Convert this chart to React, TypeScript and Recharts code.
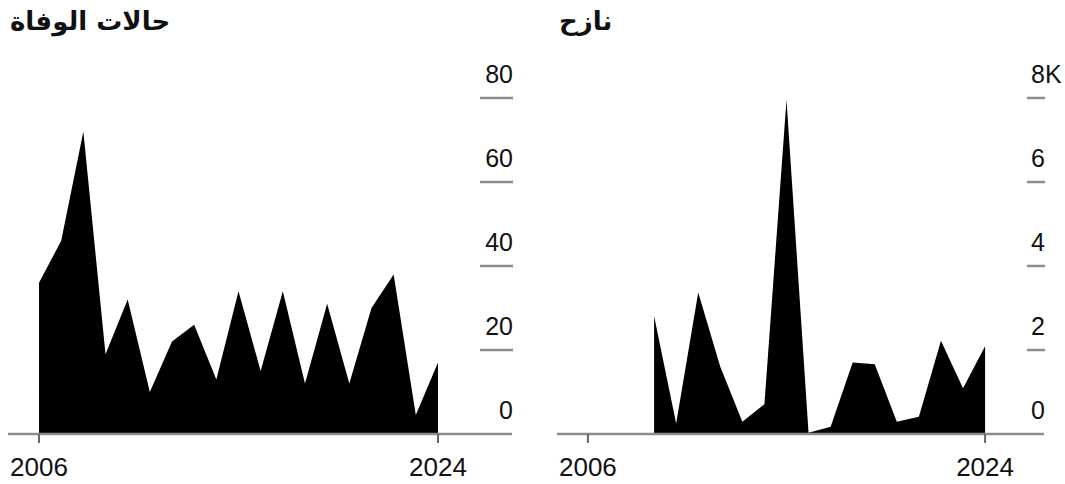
import React from 'react';
import { AreaChart, Area, XAxis, YAxis } from 'recharts';

const years = [2006, 2007, 2008, 2009, 2010, 2011, 2012, 2013, 2014, 2015, 2016, 2017, 2018, 2019, 2020, 2021, 2022, 2023, 2024];
const deaths = [36, 46, 72, 19, 32, 10, 22, 26, 13, 34, 15, 34, 12, 31, 12, 30, 38, 4.5, 17];
const displaced = [null, null, null, 2810, 250, 3370, 1600, 290, 710, 7960, 30, 170, 1700, 1660, 290, 410, 2220, 1090, 2090];

const deathTicks = [0, 20, 40, 60, 80];
const displacedTicks = [0, 2000, 4000, 6000, 8000];
const yearTicks = [2006, 2024];

const FONT = '"Liberation Sans", Arial, sans-serif';
const GREY = '#8c8c8c';

interface TickProps {
  x?: number;
  y?: number;
  payload?: { value: number };
  tickLen: number;
  unit: number;
  topSuffix: string;
  topValue: number;
}

const YTick = ({ x = 0, y = 0, payload, tickLen, unit, topSuffix, topValue }: TickProps) => {
  const v = payload ? payload.value : 0;
  const label = String(v / unit);
  return (
    <g>
      {v !== 0 && (
        <line x1={x - tickLen + 1} x2={x + 1} y1={y} y2={y} stroke={GREY} strokeWidth={2.5} />
      )}
      <text x={x + 1} y={y - 15} textAnchor="end" fontSize={25} fontFamily={FONT} fill="#111">
        {label}
      </text>
      {v === topValue && topSuffix && (
        <text x={x + 1} y={y - 15} textAnchor="start" fontSize={25} fontFamily={FONT} fill="#111">
          {topSuffix}
        </text>
      )}
    </g>
  );
};

interface PanelProps {
  title: string;
  values: (number | null)[];
  yMax: number;
  yTicks: number[];
  unit: number;
  topSuffix: string;
  tickLen: number;
  domain: [number, number];
  marginLeft: number;
  plotWidth: number;
  width: number;
  left: number;
}

const Panel = ({ title, values, yMax, yTicks, unit, topSuffix, tickLen, domain, marginLeft, plotWidth, width, left }: PanelProps) => {
  const data = years.map((year, i) => ({ year, value: values[i] }));
  return (
    <div style={{ position: 'absolute', left, top: 0, width, height: 484 }}>
      <div
        style={{
          position: 'absolute',
          left: marginLeft + 2,
          top: 6,
          fontFamily: '"DejaVu Sans", sans-serif',
          fontWeight: 'bold',
          fontSize: 26,
          color: '#111',
          whiteSpace: 'nowrap',
        }}
      >
        {title}
      </div>
      <AreaChart
        width={width}
        height={484}
        data={data}
        margin={{ top: 98, right: width - marginLeft - plotWidth - 1, bottom: 0, left: marginLeft }}
      >
        <XAxis
          dataKey="year"
          type="number"
          domain={domain}
          ticks={yearTicks}
          allowDataOverflow
          height={50}
          axisLine={{ stroke: GREY, strokeWidth: 2.5 }}
          tickLine={{ stroke: '#666', strokeWidth: 2 }}
          tickSize={9}
          tickMargin={15}
          tick={{ fontSize: 26, fontFamily: FONT, fill: '#111' }}
        />
        <YAxis
          orientation="right"
          domain={[0, yMax]}
          ticks={yTicks}
          width={1}
          axisLine={false}
          tickLine={false}
          tickSize={0}
          tickMargin={0}
          tick={(props: any) => (
            <YTick {...props} tickLen={tickLen} unit={unit} topSuffix={topSuffix} topValue={yMax} />
          )}
        />
        <Area
          type="linear"
          dataKey="value"
          stroke="none"
          fill="#000"
          fillOpacity={1}
          baseValue={0}
          isAnimationActive={false}
        />
      </AreaChart>
    </div>
  );
};

export default function App() {
  return (
    <div style={{ position: 'absolute', left: 0, top: 0, width: 1065, height: 484, background: '#fff' }}>
      <Panel
        title="حالات الوفاة"
        values={deaths}
        yMax={80}
        yTicks={deathTicks}
        unit={1}
        topSuffix=""
        tickLen={33}
        domain={[2004.6, 2027.34]}
        marginLeft={8}
        plotWidth={504}
        width={530}
        left={0}
      />
      <Panel
        title="نازح"
        values={displaced}
        yMax={8000}
        yTicks={displacedTicks}
        unit={1000}
        topSuffix="K"
        tickLen={18}
        domain={[2004.6, 2026.67]}
        marginLeft={27}
        plotWidth={487}
        width={535}
        left={530}
      />
    </div>
  );
}
